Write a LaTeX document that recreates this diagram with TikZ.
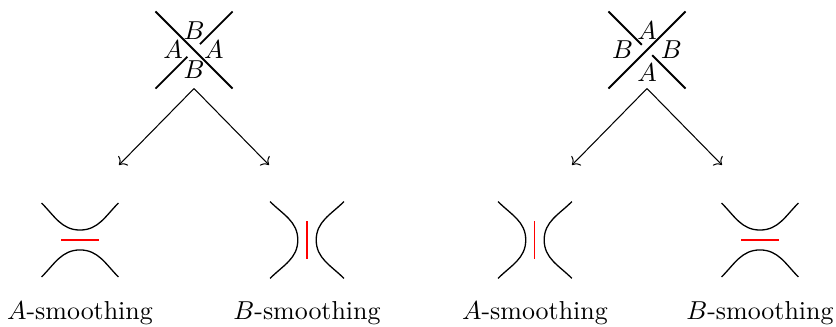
\documentclass[tikz,border=0pt]{standalone}
\usepackage{amsmath,amssymb}
\usepackage{xcolor}
\usepackage{tikz}
\usetikzlibrary{arrows.meta, positioning, calc}

\begin{document}
\begin{tikzpicture}[
  xing/.style={minimum size=1.03cm, inner sep=0pt},
  strand/.style={line width=0.7pt},
  smcurve/.style={line width=0.5pt},
  redbar/.style={red, line width=0.4pt},
  lbl/.style={inner sep=0pt},
  arr/.style={->, line width=0.4pt},
]
\useasboundingbox (0,0) rectangle (11.328,-4.431);

% --- crossing 1 (over strand NW-SE)
\node[xing] (k1) at (2.629,-0.678) {};
\draw[strand] (k1.north west) -- (k1.south east);
\draw[strand] (k1.north east) -- ($(k1)+(0.08,0.08)$);
\draw[strand] (k1.south west) -- ($(k1)+(-0.09,-0.09)$);
\node[lbl] (k1n) at ($(k1)+(0,0.265)$)  {$B$};
\node[lbl] (k1s) at ($(k1)+(0,-0.27)$)  {$B$};
\node[lbl] (k1w) at ($(k1)+(-0.285,0)$) {$A$};
\node[lbl] (k1e) at ($(k1)+(0.27,0)$)   {$A$};

% --- crossing 2 (over strand SW-NE)
\node[xing] (k2) at (8.767,-0.678) {};
\draw[strand] (k2.south west) -- (k2.north east);
\draw[strand] (k2.north west) -- ($(k2)+(-0.07,0.07)$);
\draw[strand] (k2.south east) -- ($(k2)+(0.07,-0.07)$);
\node[lbl] (k2n) at ($(k2)+(0,0.26)$)   {$A$};
\node[lbl] (k2s) at ($(k2)+(0,-0.31)$)  {$A$};
\node[lbl] (k2w) at ($(k2)+(-0.33,0)$)  {$B$};
\node[lbl] (k2e) at ($(k2)+(0.33,0)$)   {$B$};

% --- arrows down to the smoothings
\coordinate (a1) at (1.612,-2.236);
\coordinate (b1) at (3.645,-2.236);
\coordinate (a2) at (7.751,-2.236);
\coordinate (b2) at (9.783,-2.236);
\draw[arr] (k1.south) -- (a1);
\draw[arr] (k1.south) -- (b1);
\draw[arr] (k2.south) -- (a2);
\draw[arr] (k2.south) -- (b2);

% --- smoothings
\coordinate (s1) at (1.084,-3.252);
\coordinate (s2) at (4.160,-3.252);
\coordinate (s3) at (7.249,-3.252);
\coordinate (s4) at (10.298,-3.252);

% s1: horizontal
\draw[smcurve] ($(s1)+(-0.52,0.5)$) to[out=-45,in=180] ($(s1)+(0,0.135)$) to[out=0,in=-135] ($(s1)+(0.52,0.5)$);
\draw[smcurve] ($(s1)+(-0.52,-0.5)$) to[out=45,in=180] ($(s1)+(0,-0.135)$) to[out=0,in=135] ($(s1)+(0.52,-0.5)$);
\draw[redbar] ($(s1)+(-0.255,0)$) -- ($(s1)+(0.255,0)$);

% s2: vertical
\draw[smcurve] ($(s2)+(-0.5,0.52)$) to[out=-45,in=90] ($(s2)+(-0.125,0)$) to[out=-90,in=45] ($(s2)+(-0.5,-0.52)$);
\draw[smcurve] ($(s2)+(0.5,0.52)$) to[out=-135,in=90] ($(s2)+(0.125,0)$) to[out=-90,in=135] ($(s2)+(0.5,-0.52)$);
\draw[redbar] ($(s2)+(0,0.255)$) -- ($(s2)+(0,-0.255)$);

% s3: vertical
\draw[smcurve] ($(s3)+(-0.5,0.52)$) to[out=-45,in=90] ($(s3)+(-0.125,0)$) to[out=-90,in=45] ($(s3)+(-0.5,-0.52)$);
\draw[smcurve] ($(s3)+(0.5,0.52)$) to[out=-135,in=90] ($(s3)+(0.125,0)$) to[out=-90,in=135] ($(s3)+(0.5,-0.52)$);
\draw[redbar] ($(s3)+(0,0.255)$) -- ($(s3)+(0,-0.255)$);

% s4: horizontal
\draw[smcurve] ($(s4)+(-0.52,0.5)$) to[out=-45,in=180] ($(s4)+(0,0.135)$) to[out=0,in=-135] ($(s4)+(0.52,0.5)$);
\draw[smcurve] ($(s4)+(-0.52,-0.5)$) to[out=45,in=180] ($(s4)+(0,-0.135)$) to[out=0,in=135] ($(s4)+(0.52,-0.5)$);
\draw[redbar] ($(s4)+(-0.255,0)$) -- ($(s4)+(0.255,0)$);

% --- labels
\node[lbl, anchor=base] (l1) at (1.084,-4.336)  {$A$-smoothing};
\node[lbl, anchor=base] (l2) at (4.160,-4.336)  {$B$-smoothing};
\node[lbl, anchor=base] (l3) at (7.249,-4.336)  {$A$-smoothing};
\node[lbl, anchor=base] (l4) at (10.298,-4.336) {$B$-smoothing};
\end{tikzpicture}
\end{document}
